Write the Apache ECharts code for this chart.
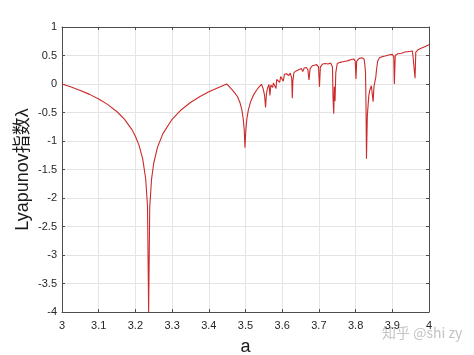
<!DOCTYPE html>
<html>
<head>
<meta charset="utf-8">
<script src="https://cdn.jsdelivr.net/npm/echarts@6/dist/echarts.min.js"></script>
<style>
  html, body { margin: 0; padding: 0; background: #fff; }
  #chart { width: 474px; height: 355px; }
</style>
</head>
<body>
<div id="chart"></div>
<script>
// parameter a (x) and Lyapunov exponent (y)
var aValues = [
  3.000, 3.025, 3.050, 3.075, 3.100, 3.125, 3.150, 3.170, 3.190, 3.200,
  3.210, 3.220, 3.228, 3.233, 3.2361, 3.239, 3.244, 3.250, 3.260, 3.275,
  3.300, 3.325, 3.350, 3.375, 3.400, 3.425, 3.449,
  3.455, 3.462, 3.470, 3.478, 3.485, 3.490, 3.494, 3.4965, 3.4986, 3.501,
  3.504, 3.508, 3.514, 3.522, 3.530, 3.537, 3.5435,
  3.548, 3.552, 3.5546, 3.557, 3.560, 3.564, 3.5666, 3.569, 3.571, 3.574,
  3.576, 3.580, 3.583, 3.585, 3.590, 3.593, 3.596, 3.600, 3.603, 3.606,
  3.612, 3.618, 3.622, 3.626, 3.6275, 3.629, 3.632, 3.638, 3.645, 3.652,
  3.656, 3.660, 3.666, 3.670, 3.673, 3.676, 3.682, 3.688, 3.694, 3.699,
  3.7016, 3.704, 3.710, 3.718, 3.725, 3.732, 3.737, 3.7385, 3.7405, 3.742,
  3.744, 3.746, 3.750, 3.758, 3.765, 3.772, 3.780, 3.788, 3.795, 3.799,
  3.801, 3.803, 3.810, 3.817, 3.823, 3.825, 3.827, 3.8284, 3.8296, 3.832,
  3.836, 3.839, 3.843, 3.845, 3.8477, 3.850, 3.8523, 3.855, 3.857, 3.860,
  3.865, 3.872, 3.880, 3.885, 3.890, 3.900, 3.904, 3.9056, 3.908, 3.915,
  3.925, 3.935, 3.945, 3.955, 3.960, 3.962, 3.964, 3.970, 3.980, 3.990,
  4.000
];
var lyapValues = [
  0.000, -0.053, -0.113, -0.182, -0.264, -0.362, -0.487, -0.617, -0.795, -0.916,
  -1.077, -1.318, -1.662, -2.145, -4.000, -2.167, -1.669, -1.386, -1.115, -0.870,
  -0.619, -0.451, -0.324, -0.223, -0.137, -0.064, 0.000,
  -0.040, -0.090, -0.150, -0.220, -0.330, -0.450, -0.620, -0.800, -1.120, -0.800,
  -0.600, -0.450, -0.310, -0.190, -0.110, -0.050, -0.005,
  -0.080, -0.200, -0.410, -0.180, -0.070, -0.010, -0.200, -0.020, 0.000, -0.060,
  0.020, 0.050, -0.080, 0.080, 0.100, 0.030, 0.130, 0.150, 0.050, 0.170,
  0.180, 0.150, 0.190, 0.100, -0.250, 0.050, 0.200, 0.230, 0.250, 0.270,
  0.220, 0.280, 0.290, 0.250, 0.070, 0.270, 0.320, 0.330, 0.340, 0.300,
  -0.050, 0.300, 0.350, 0.360, 0.350, 0.370, 0.300, -0.250, -0.520, -0.050,
  -0.300, 0.200, 0.360, 0.380, 0.390, 0.400, 0.410, 0.430, 0.440, 0.400,
  0.090, 0.400, 0.450, 0.460, 0.440, 0.350, 0.200, -0.400, -1.310, -0.550,
  -0.200, -0.100, -0.030, 0.000, -0.310, -0.050, -0.020, 0.120, 0.250, 0.400,
  0.460, 0.480, 0.490, 0.470, 0.510, 0.520, 0.480, 0.000, 0.500, 0.530,
  0.540, 0.560, 0.570, 0.580, 0.550, 0.100, 0.560, 0.600, 0.630, 0.660,
  0.690
];
var xTicks = [3, 3.1, 3.2, 3.3, 3.4, 3.5, 3.6, 3.7, 3.8, 3.9, 4];
var yTicks = [1, 0.5, 0, -0.5, -1, -1.5, -2, -2.5, -3, -3.5, -4];

var seriesData = aValues.map(function (a, i) { return [a, lyapValues[i]]; });

var myChart = echarts.init(document.getElementById('chart'), null, { renderer: 'canvas' });

var axisColor = '#4d4d4d';
var gridColor = '#e4e4e4';
var labelStyle = { color: '#262626', fontSize: 11, fontFamily: 'Liberation Sans, Arial, sans-serif' };

var option = {
  backgroundColor: '#fff',
  animation: false,
  grid: { left: 62, right: 45, top: 27, bottom: 43, show: false, containLabel: false, outerBoundsMode: 'none' },
  xAxis: [
    {
      type: 'value', min: xTicks[0], max: xTicks[xTicks.length - 1], interval: 0.1,
      name: 'a', nameLocation: 'middle', nameGap: 26, nameMoveOverlap: false,
      nameTextStyle: { color: '#1a1a1a', fontSize: 18, fontFamily: 'Liberation Sans, Arial, sans-serif' },
      axisLine: { show: true, onZero: false, lineStyle: { color: axisColor, width: 1 } },
      axisTick: { show: true, inside: true, length: 3, lineStyle: { color: axisColor } },
      axisLabel: Object.assign({ margin: 8 }, labelStyle),
      splitLine: { show: true, lineStyle: { color: gridColor, width: 1 } }
    },
    {
      type: 'value', position: 'top', min: 3, max: 4, interval: 0.1,
      axisLine: { show: true, onZero: false, lineStyle: { color: axisColor, width: 1 } },
      axisTick: { show: true, inside: true, length: 3, lineStyle: { color: axisColor } },
      axisLabel: { show: false },
      splitLine: { show: false }
    }
  ],
  yAxis: [
    {
      type: 'value', min: yTicks[yTicks.length - 1], max: yTicks[0], interval: 0.5,
      name: 'Lyapunov指数λ', nameLocation: 'middle', nameGap: 30, nameMoveOverlap: false,
      nameTextStyle: { color: '#1a1a1a', fontSize: 18, fontFamily: 'Liberation Sans, Noto Sans CJK SC, sans-serif' },
      axisLine: { show: true, onZero: false, lineStyle: { color: axisColor, width: 1 } },
      axisTick: { show: true, inside: true, length: 3, lineStyle: { color: axisColor } },
      axisLabel: Object.assign({ margin: 5 }, labelStyle),
      splitLine: { show: true, lineStyle: { color: gridColor, width: 1 } }
    },
    {
      type: 'value', position: 'right', min: -4, max: 1, interval: 0.5,
      axisLine: { show: true, onZero: false, lineStyle: { color: axisColor, width: 1 } },
      axisTick: { show: true, inside: true, length: 3, lineStyle: { color: axisColor } },
      axisLabel: { show: false },
      splitLine: { show: false }
    }
  ],
  series: [
    {
      type: 'line',
      data: seriesData,
      showSymbol: false,
      symbol: 'none',
      clip: true,
      lineStyle: { color: '#cc2a2a', width: 1.1 }
    }
  ],
  graphic: [
    {
      type: 'text', left: 382, top: 326,
      style: { text: '知乎 @shi zy', fill: '#c4c4c4', fontSize: 14, fontFamily: 'Noto Sans CJK SC, sans-serif' }
    }
  ]
};

myChart.setOption(option);
</script>
</body>
</html>
